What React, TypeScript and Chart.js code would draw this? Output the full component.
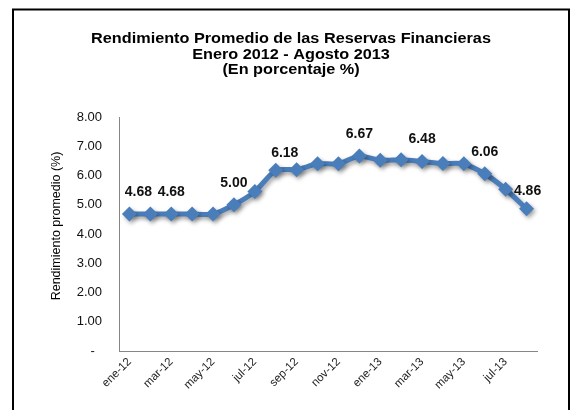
import React, { useEffect, useRef } from 'react';
import { Chart, registerables } from 'chart.js';

Chart.register(...registerables);

// ---- data ----
const MONTHS = [
  'ene-12', 'feb-12', 'mar-12', 'abr-12', 'may-12', 'jun-12', 'jul-12', 'ago-12', 'sep-12', 'oct-12',
  'nov-12', 'dic-12', 'ene-13', 'feb-13', 'mar-13', 'abr-13', 'may-13', 'jun-13', 'jul-13', 'ago-13',
];
const RENDIMIENTO = [
  4.68, 4.68, 4.68, 4.68, 4.68, 5.0, 5.45, 6.18, 6.2, 6.4,
  6.4, 6.67, 6.52, 6.54, 6.48, 6.41, 6.4, 6.06, 5.53, 4.86,
];
const LABELLED_POINTS = [0, 2, 5, 7, 11, 14, 17, 19];
const Y_MIN = 0;
const Y_MAX = 8;
const Y_STEP = 1;
const TITLE_LINES = [
  'Rendimiento Promedio de las Reservas Financieras',
  'Enero 2012 - Agosto 2013',
  '(En porcentaje %)',
];
const Y_TITLE = 'Rendimiento promedio (%)';

// ---- styles ----
const FONT = '"Liberation Sans", Arial, sans-serif';
const LINE_COLOR = '#4A7EBB';
const AXIS_COLOR = '#868686';
const LABEL_NUDGE: Record<number, [number, number]> = { 0: [9, 0], 7: [9, 5], 19: [1, 4] };

const framePlugin = {
  id: 'frame',
  beforeDraw(chart: any) {
    const ctx = chart.ctx;
    ctx.save();
    ctx.fillStyle = '#ffffff';
    ctx.fillRect(0, 0, chart.width, chart.height);
    ctx.strokeStyle = '#000000';
    ctx.lineWidth = 2;
    ctx.strokeRect(13, 9.5, 556, 420);
    ctx.restore();
  },
  afterDraw(chart: any) {
    const ctx = chart.ctx;
    ctx.save();
    ctx.fillStyle = '#000000';
    ctx.textAlign = 'center';
    ctx.textBaseline = 'alphabetic';
    ctx.font = `bold 14px ${FONT}`;
    const baselines = [42.7, 58.5, 74];
    TITLE_LINES.forEach((line, i) => {
      ctx.save();
      ctx.translate(291, baselines[i]);
      ctx.scale(1.16, 1);
      ctx.fillText(line, 0, 0);
      ctx.restore();
    });
    // y axis title
    ctx.save();
    ctx.translate(57, 226);
    ctx.rotate(-Math.PI / 2);
    ctx.font = `12.5px ${FONT}`;
    ctx.textBaseline = 'middle';
    ctx.fillText(Y_TITLE, 0, 0);
    ctx.restore();
    ctx.restore();
  },
};

const shadowLabelPlugin = {
  id: 'shadowLabels',
  beforeDatasetsDraw(chart: any) {
    const ctx = chart.ctx;
    ctx.save();
    ctx.shadowColor = 'rgba(0,0,0,0.35)';
    ctx.shadowBlur = 4;
    ctx.shadowOffsetX = 2;
    ctx.shadowOffsetY = 2.5;
  },
  afterDatasetsDraw(chart: any) {
    const ctx = chart.ctx;
    ctx.restore();
    const meta = chart.getDatasetMeta(0);
    ctx.save();
    ctx.fillStyle = '#111111';
    ctx.font = `bold 14px ${FONT}`;
    ctx.textAlign = 'center';
    ctx.textBaseline = 'middle';
    LABELLED_POINTS.forEach((i) => {
      const pt = meta.data[i];
      if (!pt) return;
      const [dx, dy] = LABEL_NUDGE[i] || [0, 0];
      ctx.fillText(RENDIMIENTO[i].toFixed(2), pt.x + dx, pt.y - 22 + dy);
    });
    ctx.restore();
  },
};

export default function App() {
  const ref = useRef<HTMLCanvasElement>(null);
  useEffect(() => {
    const canvas = ref.current;
    if (!canvas) return;
    const chart = new Chart(canvas, {
      type: 'line',
      data: {
        labels: MONTHS,
        datasets: [
          {
            data: RENDIMIENTO,
            borderColor: LINE_COLOR,
            backgroundColor: LINE_COLOR,
            borderWidth: 5,
            pointStyle: 'rectRot',
            pointRadius: 7.5,
            pointBorderWidth: 0,
            pointBackgroundColor: LINE_COLOR,
            tension: 0.2,
            fill: false,
          },
        ],
      },
      options: {
        responsive: false,
        animation: false,
        devicePixelRatio: 1,
        layout: { padding: { left: 0, top: 117, right: 34, bottom: 0 } },
        plugins: {
          legend: { display: false },
          title: { display: false },
          tooltip: { enabled: false },
        },
        scales: {
          x: {
            offset: true,
            grid: { display: false, drawTicks: false },
            border: { display: true, color: AXIS_COLOR, width: 1 },
            ticks: {
              autoSkip: false,
              minRotation: 45,
              maxRotation: 45,
              padding: 4,
              color: '#222222',
              font: { family: FONT, size: 11.5 },
              callback: (_v: any, i: number) => (i % 2 === 0 ? MONTHS[i] : ''),
            },
            afterFit: (s: any) => {
              s.height = 59;
            },
          },
          y: {
            min: Y_MIN,
            max: Y_MAX,
            grid: { display: false, drawTicks: false },
            border: { display: true, color: AXIS_COLOR, width: 1 },
            ticks: {
              stepSize: Y_STEP,
              padding: 17,
              color: '#111111',
              font: { family: FONT, size: 13 },
              callback: (v: any) => (Number(v) === 0 ? '-  ' : Number(v).toFixed(2)),
            },
            afterFit: (s: any) => {
              s.width = 119;
            },
          },
        },
      },
      plugins: [framePlugin, shadowLabelPlugin],
    });
    return () => chart.destroy();
  }, []);
  return (
    <div style={{ position: 'fixed', left: 0, top: 0, width: 571, height: 410, background: '#fff' }}>
      <canvas ref={ref} width={571} height={410} style={{ display: 'block' }} />
    </div>
  );
}
